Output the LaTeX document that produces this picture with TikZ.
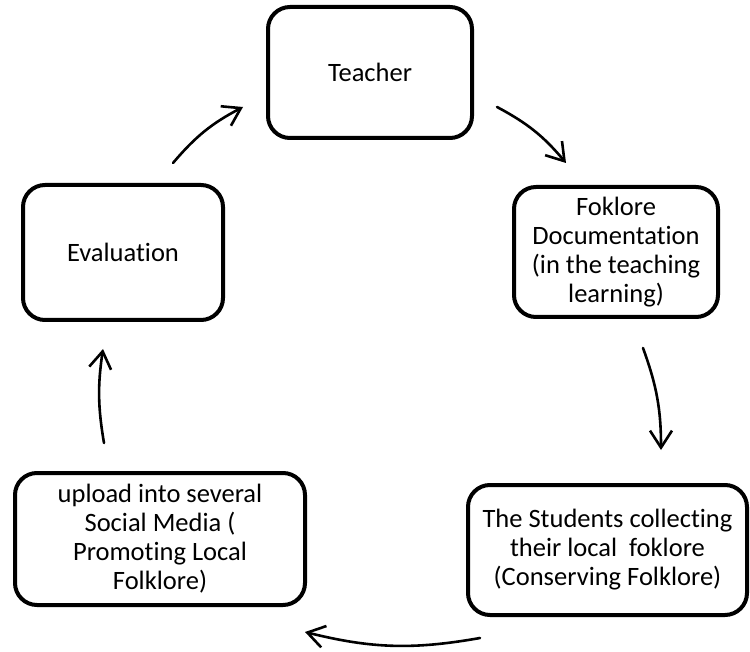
\documentclass[tikz,border=0pt]{standalone}
\usepackage{fontspec}
\setmainfont{Carlito}[Ligatures={NoCommon,NoContextual}]
\usetikzlibrary{arrows.meta}
\begin{document}
\begin{tikzpicture}[x=1pt,y=-1pt,
  box/.style={draw=black, line width=4pt, rounded corners=22pt, fill=white,
    align=center, inner sep=0pt, font=\fontsize{26.5}{29}\selectfont},
  flow/.style={line width=2.6pt, -{Straight Barb[length=17pt,width=22pt,line width=2.6pt]}, line cap=round}]
\useasboundingbox (0,0) rectangle (750,652);
\node[box, minimum width=204, minimum height=131] (teacher) at (370,72.5) {Teacher};
\node[box, minimum width=200, minimum height=135] (eval) at (123,252.5) {Evaluation};
\node[box, minimum width=204, minimum height=130] (doc) at (616,252) {Foklore\\Documentation\\(in the teaching\\learning)};
\node[box, minimum width=290, minimum height=132] (upload) at (160,539) {upload into several\\Social Media (\\Promoting Local\\Folklore)};
\node[box, minimum width=279, minimum height=130] (students) at (607.5,550) {The Students collecting\\their local\ \ foklore\\(Conserving Folklore)};
\coordinate (a1s) at (173,163);
\coordinate (a1e) at (243,107);
\coordinate (a2s) at (497,107);
\coordinate (a2e) at (566,163);
\coordinate (a3s) at (643,348);
\coordinate (a3e) at (661,450);
\coordinate (a4s) at (480,638);
\coordinate (a4e) at (305,632);
\coordinate (a5s) at (104,443);
\coordinate (a5e) at (103,349);
\draw[flow] (a1s) to[bend left=11] (a1e);
\draw[flow] (a2s) to[bend left=11] (a2e);
\draw[flow] (a3s) to[bend left=10] (a3e);
\draw[flow] (a4s) to[bend left=12] (a4e);
\draw[flow] (a5s) to[bend left=9] (a5e);
\end{tikzpicture}
\end{document}
